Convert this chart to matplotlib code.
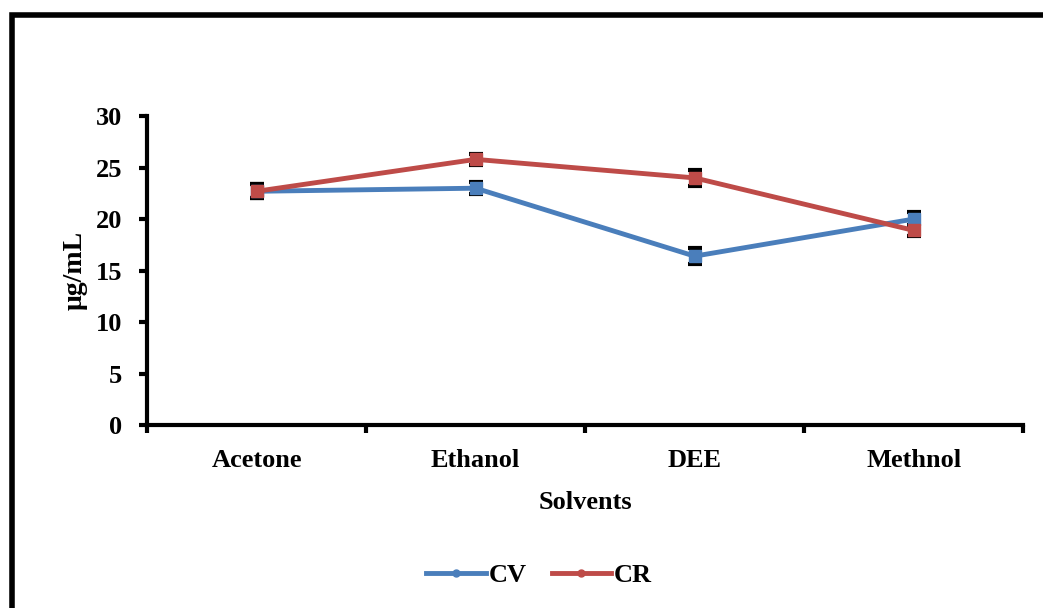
import numpy as np
import matplotlib
matplotlib.use("Agg")
import matplotlib.pyplot as plt
from matplotlib.patches import Rectangle
from matplotlib.lines import Line2D

# --- datos ---
solvents = ["Acetone", "Ethanol", "DEE", "Methnol"]
cv_values = [22.7, 23.0, 16.4, 20.0]
cv_err = [0.7, 0.6, 0.8, 0.7]
cr_values = [22.7, 25.8, 24.0, 18.9]
cr_err = [0.7, 0.5, 0.8, 0.5]
y_ticks = [0, 5, 10, 15, 20, 25, 30]

plt.rcParams["font.family"] = ["Liberation Serif", "DejaVu Serif"]
plt.rcParams["font.weight"] = "bold"
fs = 19

fig = plt.figure(figsize=(10.43, 6.08), dpi=100)
ax = fig.add_axes([0.141, 0.301, 0.840, 0.508])

x = np.arange(len(solvents))
blue = "#4a7ebb"
red = "#be4b48"

ax.errorbar(x, cv_values, yerr=cv_err, color=blue, lw=3.5, marker="s", ms=8,
            mfc=blue, mec=blue, ecolor="black", elinewidth=2, capsize=5,
            capthick=3, zorder=3)
ax.errorbar(x, cr_values, yerr=cr_err, color=red, lw=3.5, marker="s", ms=8,
            mfc=red, mec=red, ecolor="black", elinewidth=2, capsize=5,
            capthick=3, zorder=3)

ax.set_xlim(-0.5, len(solvents) - 0.5)
ax.set_ylim(0, 30)
ax.set_yticks(y_ticks)
ax.set_yticklabels([str(v) for v in y_ticks], fontsize=fs, fontweight="bold")

# ticks entre categorías, etiquetas centradas
ax.set_xticks(np.arange(len(solvents) + 1) - 0.5)
ax.set_xticklabels([])
ax.set_xticks(x, minor=True)
ax.set_xticklabels(solvents, minor=True, fontsize=fs, fontweight="bold")
ax.tick_params(axis="x", which="minor", length=0, pad=17)
ax.tick_params(axis="x", which="major", length=6, width=3, direction="out")
ax.tick_params(axis="y", length=6, width=3, direction="out", pad=12)

for side in ["top", "right"]:
    ax.spines[side].set_visible(False)
for side in ["left", "bottom"]:
    ax.spines[side].set_linewidth(3)

ax.set_xlabel("Solvents", fontsize=fs, fontweight="bold", labelpad=14)
ax.set_ylabel("μg/mL", fontsize=20, fontweight="bold", labelpad=6)

handles = [Line2D([], [], color=blue, lw=3.5, marker="o", ms=5),
           Line2D([], [], color=red, lw=3.5, marker="o", ms=5)]
fig.legend(handles, ["CV", "CR"], loc="center",
           bbox_to_anchor=(539 / 1043, 1 - 575 / 608), ncol=2, frameon=False,
           fontsize=fs, handlelength=2.25, columnspacing=0.95,
           handletextpad=0.1)

# marco exterior
fig.patches.append(Rectangle((12 / 1043, -0.1), 1.2, 1 - 15 / 608 + 0.1,
                             transform=fig.transFigure, fill=False,
                             edgecolor="black", lw=4))

fig.savefig("out.png", dpi=100)
